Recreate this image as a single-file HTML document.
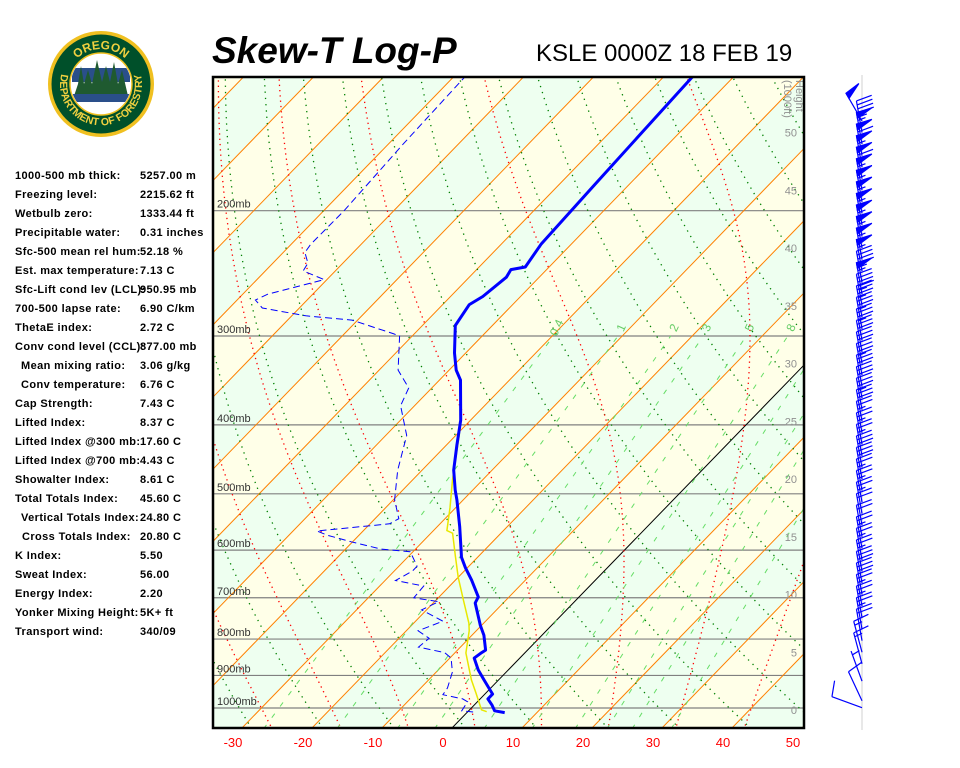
<!DOCTYPE html>
<html><head><meta charset="utf-8">
<style>
body{margin:0;background:#fff;width:960px;height:768px;overflow:hidden;font-family:"Liberation Sans",Arial,sans-serif;}
#wrap{position:relative;width:960px;height:768px;}
.stat{position:absolute;font-size:11px;font-weight:bold;letter-spacing:0.4px;color:#000;white-space:nowrap;}
#title{position:absolute;left:212px;top:30px;font-size:37px;font-weight:bold;font-style:italic;}
#sub{position:absolute;left:536px;top:40px;font-size:24px;}
</style></head>
<body><div id="wrap">
<div id="title">Skew-T Log-P</div>
<div id="sub">KSLE 0000Z 18 FEB 19</div>
<svg id="logo" width="210" height="150" style="position:absolute;left:0;top:0" viewBox="0 0 210 150">
<defs>
<path id="topArc" d="M66,84 A35,35 0 0,1 136,84"/>
<path id="botArc" d="M61.5,73.4 A41,41 0 1,0 140.5,73.4"/>
<clipPath id="innerClip"><circle cx="101" cy="84" r="30"/></clipPath>
</defs>
<circle cx="101" cy="84" r="53" fill="#f0c020"/>
<circle cx="101" cy="84" r="49.5" fill="#00502a"/>
<circle cx="101" cy="84" r="31" fill="#fff" stroke="#f0c020" stroke-width="1.5"/>
<g clip-path="url(#innerClip)">
<rect x="72" y="68" width="58" height="14" fill="#2a4f8a"/>
<polygon points="74,96 78,84 81,66 84,84 88,70 92,84 97,60 102,82 106,66 110,82 114,62 118,84 122,70 128,96" fill="#1f5a30"/>
<rect x="72" y="94" width="58" height="8" fill="#2a4f8a"/>
</g>
<text font-size="12" font-weight="bold" fill="#f0d040" font-family="Liberation Sans, sans-serif"><textPath href="#topArc" startOffset="50%" text-anchor="middle">OREGON</textPath></text>
<text font-size="10.5" font-weight="bold" fill="#f0d040" font-family="Liberation Sans, sans-serif"><textPath href="#botArc" startOffset="50%" text-anchor="middle">DEPARTMENT OF FORESTRY</textPath></text>
</svg>

<div class="stat" style="left:15px;top:170px">1000-500 mb thick:</div><div class="stat" style="left:140px;top:170px">5257.00 m</div>
<div class="stat" style="left:15px;top:189px">Freezing level:</div><div class="stat" style="left:140px;top:189px">2215.62 ft</div>
<div class="stat" style="left:15px;top:208px">Wetbulb zero:</div><div class="stat" style="left:140px;top:208px">1333.44 ft</div>
<div class="stat" style="left:15px;top:227px">Precipitable water:</div><div class="stat" style="left:140px;top:227px">0.31 inches</div>
<div class="stat" style="left:15px;top:246px">Sfc-500 mean rel hum:</div><div class="stat" style="left:140px;top:246px">52.18 %</div>
<div class="stat" style="left:15px;top:265px">Est. max temperature:</div><div class="stat" style="left:140px;top:265px">7.13 C</div>
<div class="stat" style="left:15px;top:284px">Sfc-Lift cond lev (LCL):</div><div class="stat" style="left:140px;top:284px">950.95 mb</div>
<div class="stat" style="left:15px;top:303px">700-500 lapse rate:</div><div class="stat" style="left:140px;top:303px">6.90 C/km</div>
<div class="stat" style="left:15px;top:322px">ThetaE index:</div><div class="stat" style="left:140px;top:322px">2.72 C</div>
<div class="stat" style="left:15px;top:341px">Conv cond level (CCL):</div><div class="stat" style="left:140px;top:341px">877.00 mb</div>
<div class="stat" style="left:21px;top:360px">Mean mixing ratio:</div><div class="stat" style="left:140px;top:360px">3.06 g/kg</div>
<div class="stat" style="left:21px;top:379px">Conv temperature:</div><div class="stat" style="left:140px;top:379px">6.76 C</div>
<div class="stat" style="left:15px;top:398px">Cap Strength:</div><div class="stat" style="left:140px;top:398px">7.43 C</div>
<div class="stat" style="left:15px;top:417px">Lifted Index:</div><div class="stat" style="left:140px;top:417px">8.37 C</div>
<div class="stat" style="left:15px;top:436px">Lifted Index @300 mb:</div><div class="stat" style="left:140px;top:436px">17.60 C</div>
<div class="stat" style="left:15px;top:455px">Lifted Index @700 mb:</div><div class="stat" style="left:140px;top:455px">4.43 C</div>
<div class="stat" style="left:15px;top:474px">Showalter Index:</div><div class="stat" style="left:140px;top:474px">8.61 C</div>
<div class="stat" style="left:15px;top:493px">Total Totals Index:</div><div class="stat" style="left:140px;top:493px">45.60 C</div>
<div class="stat" style="left:21px;top:512px">Vertical Totals Index:</div><div class="stat" style="left:140px;top:512px">24.80 C</div>
<div class="stat" style="left:22px;top:531px">Cross Totals Index:</div><div class="stat" style="left:140px;top:531px">20.80 C</div>
<div class="stat" style="left:15px;top:550px">K Index:</div><div class="stat" style="left:140px;top:550px">5.50</div>
<div class="stat" style="left:15px;top:569px">Sweat Index:</div><div class="stat" style="left:140px;top:569px">56.00</div>
<div class="stat" style="left:15px;top:588px">Energy Index:</div><div class="stat" style="left:140px;top:588px">2.20</div>
<div class="stat" style="left:15px;top:607px">Yonker Mixing Height:</div><div class="stat" style="left:140px;top:607px">5K+ ft</div>
<div class="stat" style="left:15px;top:626px">Transport wind:</div><div class="stat" style="left:140px;top:626px">340/09</div>

<svg id="chart" width="960" height="768" style="position:absolute;left:0;top:0" xmlns="http://www.w3.org/2000/svg">
<defs><clipPath id="plotClip"><rect x="213" y="77" width="591" height="651"/></clipPath></defs>
<g id="plot" clip-path="url(#plotClip)"></g>
<g id="overlay"></g>
<rect x="213" y="77" width="591" height="651" fill="none" stroke="#000" stroke-width="2.5"/>
<line x1="862" y1="75" x2="862" y2="730" stroke="#e8e8e8" stroke-width="2"/>
<g id="barbs"></g>
</svg>
</div>
<script>
// ---- data ----
const isobars = [1000, 900, 800, 700, 600, 500, 400, 300, 200];
const tempTicks = [-30, -20, -10, 0, 10, 20, 30, 40, 50];
const heightTicks = [0, 5, 10, 15, 20, 25, 30, 35, 40, 45, 50];
const mixRatios = [0.4, 1, 2, 3, 5, 8, 12, 16, 20, 28];
const mixLabels = ["0.4", "1", "2", "3", "5", "8"];
const tempP = [1015,1009,990,971,956,937,913,884,851,836,829,790,765,712,698,661,635,614,594,556,510,494,463,427,394,346,335,317,290,271,264,248,242,240,223,184,154,129];
const tempT = [5.4,3.7,2.5,1.1,1.1,-0.3,-2.1,-4.3,-6.5,-6.2,-6.0,-8.3,-10.2,-14.0,-14.4,-17.7,-20.3,-22.3,-23.8,-26.8,-30.9,-32.5,-35.5,-38.5,-41.4,-47.0,-49.0,-51.6,-55.3,-56.2,-55.4,-54.7,-55.1,-53.4,-54.3,-54.9,-55.4,-55.9];
const dewP = [1013,1009,980,971,958,937,890,851,836,821,798,779,755,728,709,700,674,662,642,632,603,598,584,572,564,551,542,510,463,414,376,355,335,300,298,285,281,274,267,262,250,243,237,229,223,200,161,129];
const dewT = [0.8,-1.0,-1.4,-2.5,-5.9,-6.2,-7.7,-9.8,-11.5,-16.0,-15.7,-18.3,-16.1,-20.7,-19.4,-23.5,-23.7,-28.5,-27.4,-27.4,-30.4,-34.9,-40.2,-44.4,-46.6,-37.2,-36.6,-39.8,-43.5,-47.0,-52.0,-53.3,-57.3,-61.8,-62.9,-70.8,-78.0,-85.3,-87.4,-86.4,-80.4,-84.6,-85.0,-86.9,-87.2,-87.1,-87.9,-88.4];
const wetP = [1012,1006,953,913,837,779,760,705,655,612,568,563,523,478,414,390];
const wetT = [2.7,1.7,-1.4,-3.9,-8.4,-11.0,-12.1,-16.1,-20.0,-23.3,-26.9,-28.1,-30.8,-34.3,-39.5,-41.8];
const windH = [0.2,0.8,2.5,4,5,6,7,8,9,10,11,12,13,14,15,16,17,18,19,20,21,22,23,24,25,26,27,28,29,30,31,32,33,34,35,36,37,38,39,40,41,42,43,44,45,46,47,48,49,50,51];
const windDir = [290,335,340,345,345,350,350,350,350,350,350,350,350,350,350,350,350,350,350,350,350,350,350,350,350,350,350,350,350,350,350,350,350,350,350,350,350,350,350,350,350,350,350,350,350,350,350,350,350,350,330];
const windSpd = [10,10,5,15,15,20,25,25,25,30,30,25,25,25,20,20,25,25,25,30,30,25,25,25,30,35,30,30,35,30,30,35,35,35,45,55,45,55,55,55,55,55,55,55,55,60,55,60,55,45,50];

// ---- axes ----
const NS='http://www.w3.org/2000/svg';
function yP(p){return 708-309*Math.log(1000/p);}
function xT(t,p){return 451+7.0*t+0.97*(729-yP(p));}
function yH(h){return 710-11.55*h;}
const pBot=1000*Math.exp(21/309), pTop=1000*Math.exp(-632/309);
const plot=document.getElementById('plot'), ov=document.getElementById('overlay'), bg=document.getElementById('barbs');
function mk(tag,attrs,parent){const e=document.createElementNS(NS,tag);for(const k in attrs)e.setAttribute(k,attrs[k]);parent.appendChild(e);return e;}
function pathFrom(ps,ts){return ps.map((p,i)=>(i?'L':'M')+xT(ts[i],p).toFixed(1)+','+yP(p).toFixed(1)).join(' ');}

// background bands
for(let t=-140;t<60;t+=10){
  const pts=[[xT(t,pBot),729],[xT(t+10,pBot),729],[xT(t+10,pTop),76],[xT(t,pTop),76]].map(a=>a.join(',')).join(' ');
  const band=mk('polygon',{points:pts,fill:((t/10)%2===0)?'#eefff0':'#ffffe8'},plot);
  
  
}
// isobars
isobars.forEach(p=>{
  const l=mk('line',{x1:213,x2:805,y1:yP(p),y2:yP(p),stroke:'#808080','stroke-width':1.2},plot);
  
  
  const tx=mk('text',{x:217,y:yP(p)-3,'font-size':11,fill:'#333','font-family':'Liberation Sans, sans-serif'},ov);
  tx.textContent=p+'mb';
  
  
});
// isotherms
for(let t=-130;t<=60;t+=10){
  const l=mk('line',{x1:xT(t,pBot),y1:729,x2:xT(t,pTop),y2:76,stroke:t===0?'#000':'#ff8000','stroke-width':1},plot);
  
  
}
// dry adiabats
for(let th=230;th<=480;th+=10){
  let d='';
  for(let p=pBot;p>=pTop-5;p-=10){const t=th*Math.pow(p/1000,0.286)-273.15;d+=(d?'L':'M')+xT(t,p).toFixed(1)+','+yP(p).toFixed(1);}
  const l=mk('path',{d:d,fill:'none',stroke:'#008000','stroke-width':1.3,'stroke-dasharray':'1.3 5'},plot);
  
  
}
// moist adiabats
function es(tc){return 6.112*Math.exp(17.67*tc/(tc+243.5));}
function dTdp(T,p){const tc=T-273.15;const e=es(tc);const rs=0.622*e/(p-e);const Rd=287,cp=1004,Lv=2.5e6;
  return (Rd*T+Lv*rs)/(p*(cp+Lv*Lv*rs*0.622/(Rd*T*T)));}
for(let t0=-30;t0<=50;t0+=10){
  const up=[[1000,t0+273.15]];let T=t0+273.15;
  for(let p=1000;p>pTop-5;p-=2){T+=dTdp(T,p)*(-2);up.push([p-2,T]);}
  const dn=[];T=t0+273.15;
  for(let p=1000;p<pBot+5;p+=2){T+=dTdp(T,p)*2;dn.push([p+2,T]);}
  const all=dn.reverse().concat(up);
  const d=all.map((a,i)=>(i?'L':'M')+xT(a[1]-273.15,a[0]).toFixed(1)+','+yP(a[0]).toFixed(1)).join(' ');
  const l=mk('path',{d:d,fill:'none',stroke:'#ff0000','stroke-width':1.3,'stroke-dasharray':'1.3 4'},plot);
  
  
}
// mixing ratio lines
function tdFor(w,p){const e=w*p/(622+w);const L=Math.log(e/6.112);return 243.5*L/(17.67-L);}
mixRatios.forEach(w=>{
  const l=mk('line',{x1:xT(tdFor(w,pBot),pBot),y1:yP(pBot),x2:xT(tdFor(w,300),300),y2:yP(300),stroke:'#66dd66','stroke-width':1,'stroke-dasharray':'5 9'},plot);
  
  
});
mixLabels.forEach((s,i)=>{
  const x=xT(tdFor(mixRatios[i],300),300)+4, y=yP(300)-8;
  const tx=mk('text',{x:x,y:y,'font-size':12,fill:'#66cc66','text-anchor':'middle','dominant-baseline':'middle',transform:'rotate(-65 '+x+' '+y+')','font-family':'Liberation Sans, sans-serif'},ov);
  tx.textContent=s;
  
  
});
// wetbulb, dewpoint, temperature
let l=mk('path',{d:pathFrom(wetP,wetT),fill:'none',stroke:'#e8e800','stroke-width':1.5},plot);


l=mk('path',{d:pathFrom(dewP,dewT),fill:'none',stroke:'#0000ff','stroke-width':1,'stroke-dasharray':'7 4'},plot);


l=mk('path',{d:pathFrom(tempP,tempT),fill:'none',stroke:'#0000ff','stroke-width':3,'stroke-linejoin':'round'},plot);


// temperature tick labels
tempTicks.forEach(t=>{
  const tx=mk('text',{x:443+7.0*t,y:747,'font-size':13,fill:'#ff0000','text-anchor':'middle','font-family':'Liberation Sans, sans-serif'},ov);
  tx.textContent=t;
  
  
});
// height labels
heightTicks.forEach(h=>{
  const tx=mk('text',{x:797,y:yH(h)+4,'font-size':11,fill:'#909090','text-anchor':'end','font-family':'Liberation Sans, sans-serif'},ov);
  tx.textContent=h;
  
  
});
const ht=mk('text',{x:0,y:0,'font-size':11,fill:'#909090','font-family':'Liberation Sans, sans-serif',transform:'translate(796,80) rotate(90)'},ov);
ht.textContent='Height';


const ht2=mk('text',{x:0,y:0,'font-size':11,fill:'#909090','font-family':'Liberation Sans, sans-serif',transform:'translate(784,80) rotate(90)'},ov);
ht2.textContent='(1000ft)';


// wind barbs
windH.forEach((h,i)=>{
  const d=windDir[i]*Math.PI/180, L=32;
  const ux=Math.sin(d), uy=-Math.cos(d);
  const bx=862, by=yH(h), tx=bx+ux*L, ty=by+uy*L;
  const px=-uy, py=ux;
  const g=mk('g',{stroke:'#0000ff','stroke-width':1.2,fill:'#0000ff'},bg);
  
  
  mk('line',{x1:bx,y1:by,x2:tx,y2:ty},g);
  let s=windSpd[i], pos=0;
  while(s>=50){
    const ax=tx-ux*pos, ay=ty-uy*pos;
    mk('polygon',{points:[ax,ay,ax+px*16+ux*2,ay+py*16+uy*2,ax-ux*6,ay-uy*6].join(',')},g);
    pos+=8;s-=50;
  }
  while(s>=10){
    const ax=tx-ux*pos, ay=ty-uy*pos;
    mk('line',{x1:ax,y1:ay,x2:ax+px*16+ux*3,y2:ay+py*16+uy*3},g);
    pos+=4;s-=10;
  }
  if(s>=5){
    if(pos===0)pos=4;
    const ax=tx-ux*pos, ay=ty-uy*pos;
    mk('line',{x1:ax,y1:ay,x2:ax+px*8+ux*1.5,y2:ay+py*8+uy*1.5},g);
  }
});
</script>
</body></html>
